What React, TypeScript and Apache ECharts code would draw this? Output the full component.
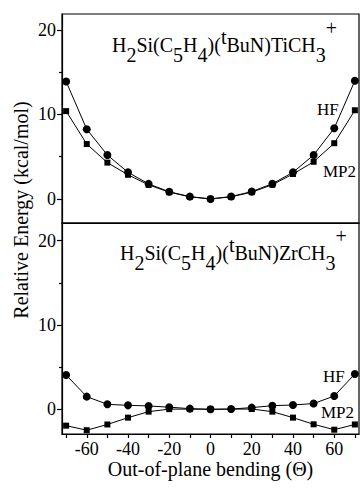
import React, { useEffect, useRef } from "react";
import * as echarts from "echarts";

const angles = [-70, -60, -50, -40, -30, -20, -10, 0, 10, 20, 30, 40, 50, 60, 70];
const tiHF = [13.9, 8.25, 5.2, 3.15, 1.78, 0.85, 0.27, 0, 0.28, 0.87, 1.8, 3.15, 5.2, 8.37, 14.0];
const tiMP2 = [10.4, 6.5, 4.3, 2.86, 1.66, 0.8, 0.25, 0, 0.25, 0.8, 1.68, 2.95, 4.4, 6.6, 10.5];
const zrHF = [4.07, 1.5, 0.59, 0.47, 0.4, 0.25, 0.08, 0, 0.03, 0.2, 0.43, 0.51, 0.68, 1.58, 4.19];
const zrMP2 = [-1.94, -2.48, -1.8, -0.99, -0.28, 0.02, 0.02, 0, 0.02, 0.03, -0.28, -0.99, -1.78, -2.42, -1.8];
const xTickLabels = [-60, -40, -20, 0, 20, 40, 60];
const yTickLabels = [0, 10, 20];
const yMinorTicks = [5, 15];

const FONT = "Liberation Serif";

function pairs(vals: number[]) {
  return angles.map((a, i) => [a, vals[i]]);
}

function titleRich(metal: string) {
  return `{n|H}{s|2}{n|Si(C}{s|5}{n|H}{s|4}{n|)(}{p|t}{n|BuN)${metal}CH}{s|3}{q|+}`;
}

const TS = 20;
const rich = {
  n: { fontSize: TS, fontFamily: FONT, color: "#000", lineHeight: 48, verticalAlign: "middle" },
  s: { fontSize: TS, fontFamily: FONT, color: "#000", verticalAlign: "middle", padding: [20, 0, 0, 0] },
  p: { fontSize: TS, fontFamily: FONT, color: "#000", verticalAlign: "middle", padding: [0, 0, 16, 0] },
  q: { fontSize: TS, fontFamily: FONT, color: "#000", verticalAlign: "middle", padding: [0, 0, 34, 0] },
};

export default function App() {
  const ref = useRef<HTMLDivElement>(null);
  useEffect(() => {
    if (!ref.current) return;
    const chart = echarts.init(ref.current, null, { renderer: "svg" });
    const line = { color: "#000", width: 1.2 };
    const majorY = (grid: number, min: number, max: number) => ({
      gridIndex: grid,
      type: "value",
      min,
      max,
      position: "left",
      axisLine: { show: true, onZero: false, lineStyle: line },
      axisTick: { show: true, length: 5, customValues: yTickLabels, lineStyle: line },
      axisLabel: { customValues: yTickLabels, fontSize: 18, fontFamily: FONT, color: "#000", margin: 6 },
      splitLine: { show: false },
    });
    const minorY = (grid: number, min: number, max: number) => ({
      gridIndex: grid,
      type: "value",
      min,
      max,
      position: "left",
      offset: 0,
      axisLine: { show: false, onZero: false },
      axisTick: { show: true, length: 3, customValues: yMinorTicks, lineStyle: line },
      axisLabel: { show: false },
      splitLine: { show: false },
    });
    const sty = (sym: string, size: number) => ({
      symbol: sym,
      symbolSize: size,
      showSymbol: true,
      lineStyle: { color: "#000", width: 1 },
      itemStyle: { color: "#000" },
    });
    const txt = (x: number, y: number, text: string, size: number) => ({
      type: "text", x, y,
      style: { text, fill: "#000", align: "left", verticalAlign: "middle", fontSize: size, fontFamily: FONT },
    });
    const option: any = {
      animation: false,
      backgroundColor: "#fff",
      grid: [
        { left: 62, top: 14, width: 297, height: 209, show: true, borderColor: "#000", borderWidth: 1.2, backgroundColor: "transparent" },
        { left: 62, top: 223, width: 297, height: 211, show: true, borderColor: "#000", borderWidth: 1.2, backgroundColor: "transparent" },
      ],
      xAxis: [
        {
          gridIndex: 0, type: "value", min: -72, max: 72,
          axisLine: { show: true, onZero: false, lineStyle: line },
          axisTick: { show: false }, axisLabel: { show: false }, splitLine: { show: false },
        },
        {
          gridIndex: 1, type: "value", min: -72, max: 72,
          axisLine: { show: true, onZero: false, lineStyle: line },
          axisTick: { show: true, length: 4, customValues: angles, lineStyle: line },
          axisLabel: { customValues: xTickLabels, fontSize: 18, fontFamily: FONT, color: "#000", margin: 6 },
          splitLine: { show: false },
          name: "Out-of-plane bending (\u0398)",
          nameLocation: "middle",
          nameGap: 25,
          nameTextStyle: { fontSize: 20, fontFamily: FONT, color: "#000" },
        },
      ],
      yAxis: [
        majorY(0, -2.85, 21.9),
        minorY(0, -2.85, 21.9),
        majorY(1, -2.93, 22.1),
        minorY(1, -2.93, 22.1),
      ],
      series: [
        { type: "line", xAxisIndex: 0, yAxisIndex: 0, data: pairs(tiMP2), ...sty("rect", 6) },
        { type: "line", xAxisIndex: 0, yAxisIndex: 0, data: pairs(tiHF), ...sty("circle", 8) },
        { type: "line", xAxisIndex: 1, yAxisIndex: 2, data: pairs(zrMP2), ...sty("rect", 6) },
        { type: "line", xAxisIndex: 1, yAxisIndex: 2, data: pairs(zrHF), ...sty("circle", 8) },
      ],
      graphic: [
        {
          type: "text", x: 112, y: 45,
          style: { text: titleRich("Ti"), rich, fill: "#000", align: "left", verticalAlign: "middle", fontSize: TS, fontFamily: FONT },
        },
        {
          type: "text", x: 120, y: 253,
          style: { text: titleRich("Zr"), rich, fill: "#000", align: "left", verticalAlign: "middle", fontSize: TS, fontFamily: FONT },
        },
        {
          type: "text", x: 21, y: 210, rotation: Math.PI / 2,
          style: { text: "Relative Energy (kcal/mol)", fill: "#000", align: "center", verticalAlign: "middle", fontSize: 20, fontFamily: FONT },
        },
        txt(317, 109, "HF", 17),
        txt(323, 171, "MP2", 17),
        txt(323, 376, "HF", 17),
        txt(321, 412, "MP2", 17),
      ],
    };
    chart.setOption(option);
    return () => chart.dispose();
  }, []);
  return (
    <div
      ref={ref}
      style={{ position: "absolute", left: 0, top: 0, width: 360, height: 491, background: "#fff" }}
    />
  );
}
